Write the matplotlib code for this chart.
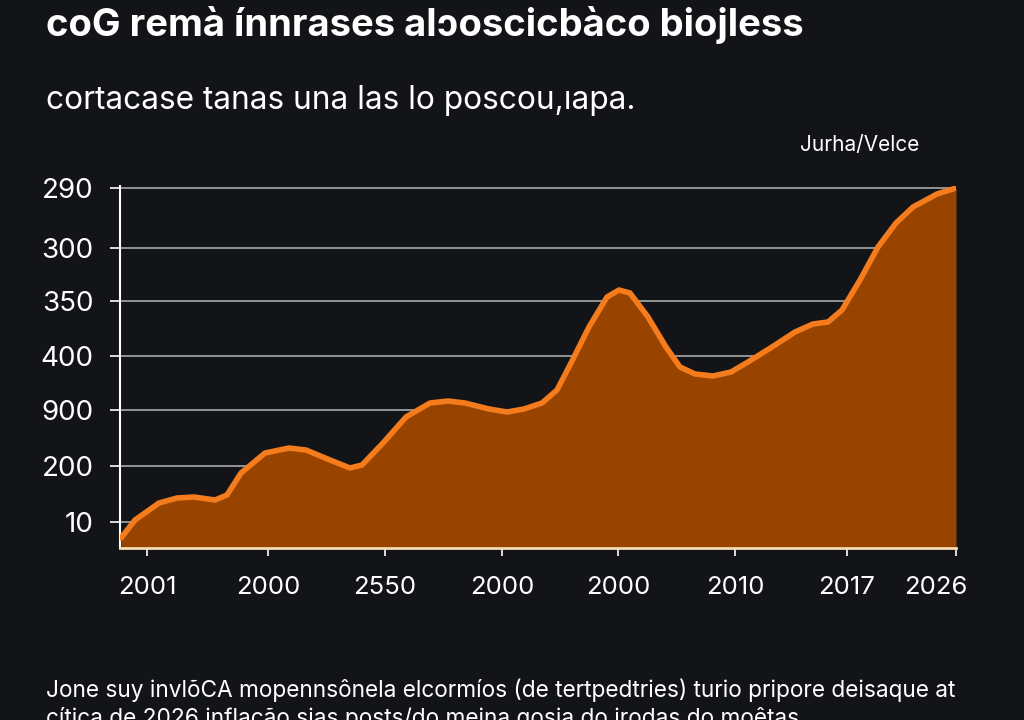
import matplotlib.pyplot as plt
import matplotlib.transforms as mtransforms
import numpy as np

# curve (x: offset along axis, y: height above baseline)
x_vals = [1, 15, 39, 57, 74, 95, 107, 121, 145, 169, 186, 210, 230, 242, 263,
          286, 310, 328, 345, 369, 387, 404, 422, 437, 451, 469, 487, 499, 510,
          528, 546, 560, 575, 593, 611, 628, 652, 675, 693, 708, 722, 740, 758,
          776, 793, 817, 836]
y_vals = [10, 28, 45, 50, 51, 48, 53, 75, 95, 100, 98, 88, 80, 83, 105,
          131, 145, 147, 145, 139, 136, 139, 145, 158, 185, 221, 251, 258, 255,
          231, 201, 181, 174, 172, 176, 186, 201, 216, 224, 226, 238, 268, 301,
          325, 341, 354, 360]

y_ticks = [26, 82, 138, 192, 247, 300, 360]
y_labels = ['10', '200', '900', '400', '350', '300', '290']
x_ticks = [27, 148, 265, 382, 498, 615, 727, 836]
x_labels = ['2001', '2000', '2550', '2000', '2000', '2010', '2017', '2026']

title = 'coG remà ínnrases alɔoscicbàco biojless'
subtitle = 'cortacase tanas una las lo poscou,ıapa.'
unit = 'Jurha/Velce'
note1 = 'Jone suy invlõCA mopennsônela elcormíos (de tertpedtries) turio pripore deisaque at'
note2 = 'cítica de 2026 inflação sias posts/do meina gosia do irodas do moêtas'

bg = '#121418'
plt.rcParams['font.family'] = ['Inter', 'DejaVu Sans']

fig = plt.figure(figsize=(10.24, 7.2), dpi=100, facecolor=bg)
ax = fig.add_axes([120/1024, 172/720, 836/1024, 362/720])
ax.set_facecolor(bg)

for yt in y_ticks:
    ax.axhline(yt, color='#a8a8a8', lw=1.2, zorder=1)

ax.fill_between(x_vals, y_vals, 0, color='#984400', zorder=2, lw=0)
ax.plot(x_vals, y_vals, color='#f47c1c', lw=4, zorder=3,
        solid_joinstyle='round', solid_capstyle='round')

ax.set_xlim(0, 836)
ax.set_ylim(0, 362)
ax.set_yticks(y_ticks)
ax.set_yticklabels(y_labels)
ax.set_xticks(x_ticks)
ax.set_xticklabels(x_labels)
ax.tick_params(axis='y', colors='white', labelsize=20, length=7, width=1.2, pad=12)
ax.tick_params(axis='x', colors='white', labelsize=18.5, length=6, width=1.2, pad=14)

# last year label sits a bit left of its tick in the original
shift = mtransforms.ScaledTranslation(-0.2, 0, fig.dpi_scale_trans)
lab = ax.xaxis.get_major_ticks()[-1].label1
lab.set_transform(lab.get_transform() + shift)

for s in ['top', 'right']:
    ax.spines[s].set_visible(False)
ax.spines['left'].set_color('white')
ax.spines['left'].set_linewidth(1.5)
ax.spines['bottom'].set_color('#f3dcb8')
ax.spines['bottom'].set_linewidth(2)

fig.text(46/1024, 1 - 25/720, title, color='white', fontsize=27.5,
         fontweight='bold', va='center', ha='left')
fig.text(46/1024, 1 - 100/720, subtitle, color='white', fontsize=22.8,
         va='center', ha='left')
fig.text(860/1024, 1 - 145/720, unit, color='white', fontsize=15,
         va='center', ha='center')
fig.text(46/1024, 1 - 690/720, note1, color='white', fontsize=16.3,
         va='center', ha='left')
fig.text(46/1024, 1 - 718/720, note2, color='white', fontsize=16.3,
         va='center', ha='left')

fig.savefig('out.png', dpi=100, facecolor=bg)
